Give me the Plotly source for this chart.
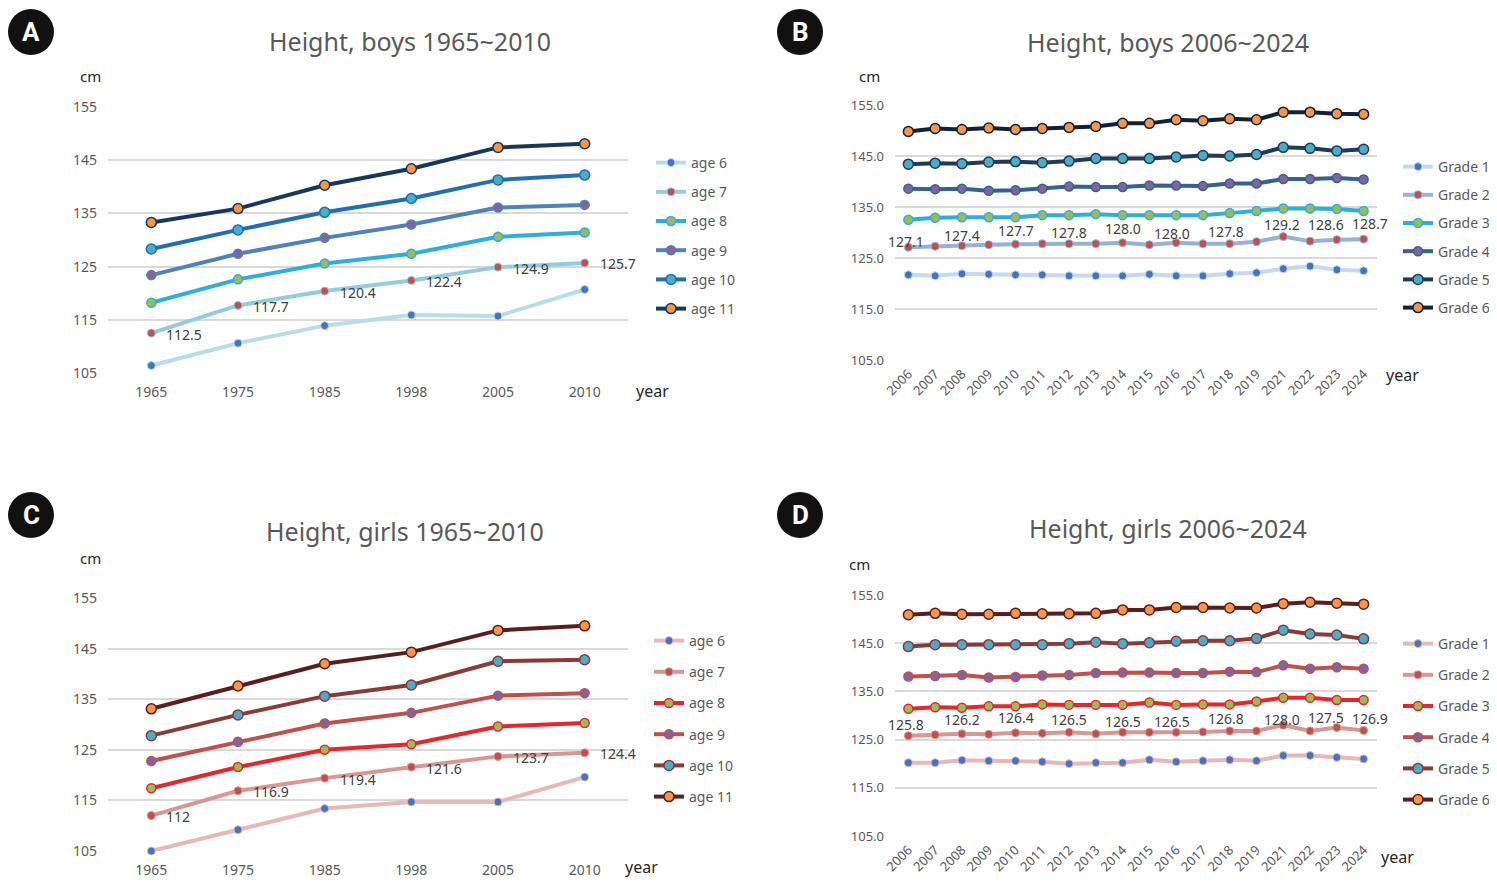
import plotly.graph_objects as go

# the page body keeps an 8px margin, so the figure is a bit smaller
# than the 1497x895 window and every position below is in window pixels
WIN_W, WIN_H = 1497, 895
PAD = 8
W, H = WIN_W - 2 * PAD, WIN_H - 2 * PAD

# categories
years_old = ["1965", "1975", "1985", "1998", "2005", "2010"]
years_new = ["2006", "2007", "2008", "2009", "2010", "2011", "2012", "2013", "2014",
             "2015", "2016", "2017", "2018", "2019", "2021", "2022", "2023", "2024"]

age_names = ["age 6", "age 7", "age 8", "age 9", "age 10", "age 11"]
grade_names = ["Grade 1", "Grade 2", "Grade 3", "Grade 4", "Grade 5", "Grade 6"]

# A: boys 1965~2010
b_age6 = [106.4, 110.6, 113.9, 115.9, 115.7, 120.7]
b_age7 = [112.5, 117.7, 120.4, 122.4, 124.9, 125.7]
b_age8 = [118.2, 122.6, 125.6, 127.4, 130.6, 131.4]
b_age9 = [123.4, 127.4, 130.4, 132.9, 136.1, 136.6]
b_age10 = [128.3, 131.9, 135.2, 137.8, 141.3, 142.2]
b_age11 = [133.3, 135.9, 140.3, 143.4, 147.4, 148.1]

# C: girls 1965~2010
g_age6 = [105.0, 109.2, 113.4, 114.7, 114.7, 119.6]
g_age7 = [112.0, 116.9, 119.4, 121.6, 123.7, 124.4]
g_age8 = [117.4, 121.6, 125.0, 126.1, 129.6, 130.3]
g_age9 = [122.8, 126.6, 130.2, 132.3, 135.7, 136.2]
g_age10 = [127.8, 131.9, 135.6, 137.8, 142.5, 142.8]
g_age11 = [133.1, 137.6, 142.0, 144.3, 148.6, 149.5]

# B: boys 2006~2024
b_gr1 = [121.7, 121.5, 121.9, 121.8, 121.7, 121.7, 121.5, 121.5, 121.5, 121.8, 121.5, 121.5, 121.9, 122.1, 122.9, 123.4, 122.7, 122.5]
b_gr2 = [127.1, 127.3, 127.4, 127.6, 127.7, 127.8, 127.8, 127.8, 128.0, 127.6, 128.0, 127.8, 127.8, 128.2, 129.2, 128.3, 128.6, 128.7]
b_gr3 = [132.5, 132.9, 133.0, 133.0, 133.0, 133.4, 133.4, 133.6, 133.4, 133.4, 133.4, 133.4, 133.8, 134.2, 134.7, 134.7, 134.6, 134.2]
b_gr4 = [138.6, 138.5, 138.6, 138.2, 138.3, 138.6, 139.0, 138.9, 138.9, 139.2, 139.2, 139.1, 139.6, 139.6, 140.5, 140.5, 140.7, 140.4]
b_gr5 = [143.4, 143.6, 143.5, 143.8, 143.9, 143.7, 144.0, 144.5, 144.5, 144.5, 144.8, 145.1, 145.0, 145.3, 146.7, 146.5, 146.0, 146.3]
b_gr6 = [149.8, 150.4, 150.2, 150.5, 150.2, 150.4, 150.6, 150.8, 151.4, 151.4, 152.1, 151.9, 152.3, 152.1, 153.6, 153.6, 153.3, 153.2]

# D: girls 2006~2024
g_gr1 = [120.2, 120.2, 120.7, 120.6, 120.6, 120.4, 120.0, 120.2, 120.2, 120.8, 120.4, 120.6, 120.8, 120.6, 121.7, 121.7, 121.3, 121.0]
g_gr2 = [125.8, 126.0, 126.2, 126.1, 126.4, 126.3, 126.5, 126.2, 126.5, 126.5, 126.5, 126.6, 126.8, 126.8, 128.0, 126.8, 127.5, 126.9]
g_gr3 = [131.4, 131.7, 131.6, 131.9, 131.9, 132.3, 132.2, 132.2, 132.2, 132.7, 132.2, 132.3, 132.3, 132.9, 133.7, 133.7, 133.2, 133.2]
g_gr4 = [138.1, 138.2, 138.4, 137.9, 138.0, 138.3, 138.4, 138.8, 138.9, 138.9, 138.8, 138.8, 139.1, 139.0, 140.4, 139.7, 140.0, 139.7]
g_gr5 = [144.3, 144.7, 144.7, 144.7, 144.7, 144.7, 144.9, 145.2, 144.9, 145.1, 145.4, 145.5, 145.5, 146.0, 147.7, 146.9, 146.7, 145.9]
g_gr6 = [150.9, 151.2, 151.0, 151.0, 151.2, 151.1, 151.1, 151.2, 151.9, 151.9, 152.4, 152.4, 152.3, 152.3, 153.2, 153.5, 153.3, 153.1]

# which points of the 2nd series carry a value label (B, D)
label_idx_new = [0, 2, 4, 6, 8, 10, 12, 14, 16, 17]

# label offsets (pixels) for B and D
lab_dx_new = [-2, 0, 0, 0, 0, -4, -4, -1, -11, 6]
lab_dy_b = [6, 10, 14, 11, 14, 9, 12, 12, 15, 16]
lab_dy_d = [11, 14, 15, 13, 11, 11, 12, 6, 10, 12]

# colours
blue_old = ["#b7dde8", "#93cddd", "#2eaee0", "#4f81bd", "#1f6fb4", "#17375e"]
blue_new = ["#c6d9f1", "#95b3d7", "#2eaee0", "#366092", "#1f3a5c", "#10223a"]
red_lines = ["#e6b9b8", "#d99694", "#e8262a", "#c0504d", "#8b3a3a", "#5b1e1e"]
mk_colors = ["#4472c4", "#c0504d", "#9bbb59", "#8064a2", "#4bacc6", "#f79646"]
mk_sizes = [8, 8, 9, 9, 10, 10]
mk_edge = [1, 1, 1.5, 1.5, 1.5, 1.5]


def fx(p):
    return (p - PAD) / W


def fy(p):
    return 1 - (p - PAD) / H


FONT = "Noto Sans"
GREY = "#595959"
LABEL = "#404040"

panels = [
    dict(ax="", leg="legend", cats=years_old, series=[b_age6, b_age7, b_age8, b_age9, b_age10, b_age11],
         names=age_names, lines=blue_old, xd=(108, 628), yd=(107, 373), fmt=".0f",
         title="Height, boys 1965~2010", tpos=(410, 41), cm=(90, 76), yr=(652, 391),
         letter="A", lpos=(31, 32), legpos=(651, 147), gap=8, tickangle=0, dy=None),
    dict(ax="2", leg="legend2", cats=years_new, series=[b_gr1, b_gr2, b_gr3, b_gr4, b_gr5, b_gr6],
         names=grade_names, lines=blue_new, xd=(895, 1377), yd=(105, 360), fmt=".1f",
         title="Height, boys 2006~2024", tpos=(1168, 42), cm=(869, 76), yr=(1402, 375),
         letter="B", lpos=(800, 32), legpos=(1398, 151), gap=7, tickangle=-45, dy=lab_dy_b),
    dict(ax="3", leg="legend3", cats=years_old, series=[g_age6, g_age7, g_age8, g_age9, g_age10, g_age11],
         names=age_names, lines=red_lines, xd=(108, 628), yd=(598, 851), fmt=".0f",
         title="Height, girls 1965~2010", tpos=(405, 531), cm=(90, 558), yr=(641, 867),
         letter="C", lpos=(31, 515), legpos=(649, 625), gap=10, tickangle=0, dy=None),
    dict(ax="4", leg="legend4", cats=years_new, series=[g_gr1, g_gr2, g_gr3, g_gr4, g_gr5, g_gr6],
         names=grade_names, lines=red_lines, xd=(895, 1377), yd=(595, 836), fmt=".1f",
         title="Height, girls 2006~2024", tpos=(1168, 528), cm=(859, 564), yr=(1397, 857),
         letter="D", lpos=(800, 515), legpos=(1398, 628), gap=10, tickangle=-45, dy=lab_dy_d),
]

fig = go.Figure()
layout = dict(width=W, height=H, margin=dict(l=0, r=0, t=0, b=0, autoexpand=False),
              paper_bgcolor="white", plot_bgcolor="white",
              font=dict(family=FONT, color=GREY, size=14))
annotations = []
shapes = []

for p in panels:
    xa = "x" + p["ax"]
    ya = "y" + p["ax"]
    old = p["dy"] is None
    for i, (vals, name) in enumerate(zip(p["series"], p["names"])):
        fig.add_trace(go.Scatter(
            x=p["cats"], y=vals, name=name, mode="lines+markers",
            xaxis=xa, yaxis=ya, legend=p["leg"], legendgroup=p["leg"] + name,
            line=dict(color=p["lines"][i], width=4),
            marker=dict(color=mk_colors[i], size=mk_sizes[i],
                        line=dict(color=p["lines"][i], width=mk_edge[i])),
            cliponaxis=False,
        ))

    # value labels on the 2nd series (x given as category index)
    lab_vals = p["series"][1]
    if old:
        for k, v in enumerate(lab_vals):
            annotations.append(dict(text="{:g}".format(v), x=k, y=v,
                                    xref=xa, yref=ya, showarrow=False,
                                    xanchor="left", yanchor="middle", xshift=13, yshift=-1,
                                    font=dict(family=FONT, size=14, color=LABEL)))
    else:
        for j, k in enumerate(label_idx_new):
            v = lab_vals[k]
            annotations.append(dict(text="{:.1f}".format(v), x=k, y=v,
                                    xref=xa, yref=ya, showarrow=False,
                                    xanchor="center", yanchor="middle",
                                    xshift=lab_dx_new[j], yshift=p["dy"][j],
                                    font=dict(family=FONT, size=14, color=LABEL)))

    xkey = "xaxis" + p["ax"]
    ykey = "yaxis" + p["ax"]
    layout[xkey] = dict(domain=[fx(p["xd"][0]), fx(p["xd"][1])], anchor=ya,
                        type="category", range=[-0.5, len(p["cats"]) - 0.5],
                        showgrid=False, showline=False, zeroline=False, ticks="",
                        tickangle=p["tickangle"], ticklabelstandoff=9 if old else 3,
                        tickfont=dict(size=14 if old else 13, color=GREY))
    layout[ykey] = dict(domain=[fy(p["yd"][1]), fy(p["yd"][0])], anchor=xa,
                        range=[105, 155], tick0=105, dtick=10, tickformat=p["fmt"],
                        showgrid=True, gridcolor="#d9d9d9", gridwidth=1.5,
                        showline=False, zeroline=False, ticks="", ticklabelstandoff=10,
                        tickfont=dict(size=14 if old else 13, color=GREY))
    layout[p["leg"]] = dict(x=fx(p["legpos"][0]), y=fy(p["legpos"][1]), xanchor="left", yanchor="top",
                            tracegroupgap=p["gap"], bgcolor="rgba(0,0,0,0)",
                            font=dict(family=FONT, size=14, color=GREY), itemwidth=30)

    annotations.append(dict(text=p["title"], x=fx(p["tpos"][0]), y=fy(p["tpos"][1]),
                            xref="paper", yref="paper", showarrow=False,
                            xanchor="center", yanchor="middle",
                            font=dict(family=FONT, size=25, color=GREY)))
    annotations.append(dict(text="cm", x=fx(p["cm"][0]), y=fy(p["cm"][1]),
                            xref="paper", yref="paper", showarrow=False,
                            xanchor="center", yanchor="middle",
                            font=dict(family=FONT, size=15, color="#262626")))
    annotations.append(dict(text="year", x=fx(p["yr"][0]), y=fy(p["yr"][1]),
                            xref="paper", yref="paper", showarrow=False,
                            xanchor="center", yanchor="middle",
                            font=dict(family=FONT, size=16, color="#262626")))
    annotations.append(dict(text="<b>" + p["letter"] + "</b>", x=fx(p["lpos"][0]), y=fy(p["lpos"][1]),
                            xref="paper", yref="paper", showarrow=False,
                            xanchor="center", yanchor="middle",
                            font=dict(family="Roboto", size=26, color="white")))
    shapes.append(dict(type="circle", xref="paper", yref="paper",
                       xsizemode="pixel", ysizemode="pixel",
                       xanchor=fx(p["lpos"][0]), yanchor=fy(p["lpos"][1]),
                       x0=-23, x1=23, y0=-23, y1=23,
                       fillcolor="#111111", line=dict(width=0), layer="below"))

layout["annotations"] = annotations
layout["shapes"] = shapes
fig.update_layout(**layout)

fig.write_html("out.html")
